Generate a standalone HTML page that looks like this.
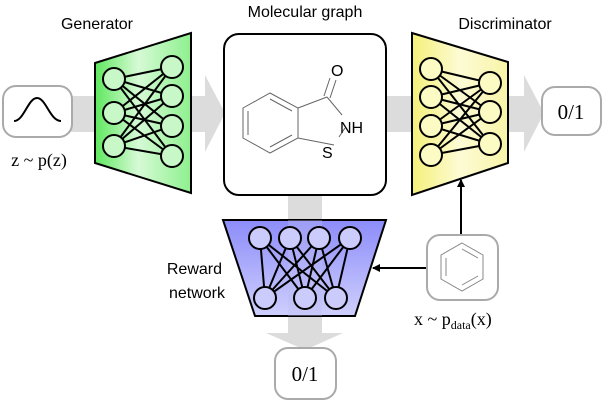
<!DOCTYPE html>
<html><head><style>body{margin:0;background:#fff}svg{display:block}</style></head><body>
<svg width="604" height="402" viewBox="0 0 604 402" xmlns="http://www.w3.org/2000/svg">
<defs>
<linearGradient id="g" x1="0" x2="1" y1="0" y2="0"><stop offset="0" stop-color="#5ee85e"/><stop offset="0.45" stop-color="#d6fad6"/><stop offset="1" stop-color="#8ef08e"/></linearGradient>
<linearGradient id="y" x1="0" x2="1" y1="0" y2="0"><stop offset="0" stop-color="#f4f07a"/><stop offset="0.5" stop-color="#fdfbd4"/><stop offset="1" stop-color="#f8f4a8"/></linearGradient>
<linearGradient id="b" x1="0" x2="0" y1="0" y2="1"><stop offset="0" stop-color="#8c8cfa"/><stop offset="1" stop-color="#cfcffd"/></linearGradient>
<marker id="ar" markerWidth="8" markerHeight="8" refX="7" refY="4" orient="auto" markerUnits="userSpaceOnUse"><path d="M0,0 L8,4 L0,8 Z" fill="#000"/></marker>
</defs>
<g fill="#dcdcdc">
<rect x="60" y="96" width="150" height="36"/>
<polygon points="205,75 225,113 205,152"/>
<rect x="380" y="96" width="148" height="36"/>
<polygon points="524,75 544,113 524,152"/>
<rect x="288" y="190" width="34" height="145"/>
<polygon points="266,333 343,333 305,350"/>
</g>
<rect x="3" y="86" width="69" height="51" rx="13" fill="#fff" stroke="#aaa" stroke-width="2"/>
<path d="M14,121 C24,121 28,98 37,98 C46,98 50,121 61,121" fill="none" stroke="#000" stroke-width="2"/>
<text x="39" y="166" font-family="Liberation Serif,serif" font-size="18" text-anchor="middle">z ~ p(z)</text>
<polygon points="95,63 191,33 191,193 95,163" fill="url(#g)" stroke="#000" stroke-width="2"/>
<g stroke="#000" stroke-width="2">
<path d="M114,79L172,67M114,79L172,96M114,79L172,126M114,79L172,156M114,113L172,67M114,113L172,96M114,113L172,126M114,113L172,156M114,146L172,67M114,146L172,96M114,146L172,126M114,146L172,156"/>
</g>
<g fill="#c8f8c8" stroke="#000" stroke-width="2">
<circle cx="114" cy="79" r="11"/><circle cx="114" cy="113" r="11"/><circle cx="114" cy="146" r="11"/>
<circle cx="172" cy="67" r="11"/><circle cx="172" cy="96" r="11"/><circle cx="172" cy="126" r="11"/><circle cx="172" cy="156" r="11"/>
</g>
<text x="97" y="29" font-family="Liberation Sans,sans-serif" font-size="16" text-anchor="middle">Generator</text>
<rect x="224" y="34" width="162" height="161" rx="15" fill="#fff" stroke="#000" stroke-width="2"/>
<text x="305" y="17" font-family="Liberation Sans,sans-serif" font-size="16" text-anchor="middle">Molecular graph</text>
<g stroke="#666" stroke-width="1" fill="none">
<polygon points="243,108 270,93 298,108 298,138 270,153 243,138"/>
<path d="M248,111 L248,135 M270,99 L292,111 M270,147 L292,135"/>
<path d="M298,108 L327,97 M327,97 L342,115 M334,145 L298,138 M324,96 L330,78 M330,98 L336,80"/>
<path d="M339,137 L345,128"/>
</g>
<g font-family="Liberation Sans,sans-serif" font-size="16" fill="#000">
<text x="331" y="76">O</text><text x="340" y="133">NH</text><text x="322" y="158">S</text>
</g>
<polygon points="412,33 508,62 508,163 412,195" fill="url(#y)" stroke="#000" stroke-width="2"/>
<g stroke="#000" stroke-width="2">
<path d="M431,69L490,83M431,69L490,112M431,69L490,144M431,97L490,83M431,97L490,112M431,97L490,144M431,126L490,83M431,126L490,112M431,126L490,144M431,155L490,83M431,155L490,112M431,155L490,144"/>
</g>
<g fill="#fdfbc4" stroke="#000" stroke-width="2">
<circle cx="431" cy="69" r="11"/><circle cx="431" cy="97" r="11"/><circle cx="431" cy="126" r="11"/><circle cx="431" cy="155" r="11"/>
<circle cx="490" cy="83" r="11"/><circle cx="490" cy="112" r="11"/><circle cx="490" cy="144" r="11"/>
</g>
<text x="505" y="29" font-family="Liberation Sans,sans-serif" font-size="16" text-anchor="middle">Discriminator</text>
<rect x="542" y="87" width="59" height="48" rx="13" fill="#fff" stroke="#aaa" stroke-width="2"/>
<text x="571" y="119" font-family="Liberation Serif,serif" font-size="21" text-anchor="middle">0/1</text>
<polygon points="223,220 386,220 355,316 255,316" fill="url(#b)" stroke="#000" stroke-width="2"/>
<rect x="288" y="220" width="34" height="96" fill="#bcbcf0" opacity="0.35"/>
<g stroke="#000" stroke-width="2">
<path d="M260,238L265,298M260,238L305,298M260,238L336,298M290,238L265,298M290,238L305,298M290,238L336,298M319,238L265,298M319,238L305,298M319,238L336,298M350,238L265,298M350,238L305,298M350,238L336,298"/>
</g>
<g fill="#ccccfc" stroke="#000" stroke-width="2">
<circle cx="260" cy="238" r="11"/><circle cx="290" cy="238" r="11"/><circle cx="319" cy="238" r="11"/><circle cx="350" cy="238" r="11"/>
<circle cx="265" cy="298" r="11"/><circle cx="305" cy="298" r="11"/><circle cx="336" cy="298" r="11"/>
</g>
<g font-family="Liberation Sans,sans-serif" font-size="16" text-anchor="end"><text x="222" y="274">Reward</text><text x="225" y="298">network</text></g>
<rect x="275" y="348" width="61" height="51" rx="13" fill="#fff" stroke="#aaa" stroke-width="2"/>
<text x="305" y="381" font-family="Liberation Serif,serif" font-size="21" text-anchor="middle">0/1</text>
<line x1="427" y1="268" x2="373" y2="268" stroke="#000" stroke-width="2" marker-end="url(#ar)"/>
<line x1="461" y1="235" x2="461" y2="180" stroke="#000" stroke-width="2" marker-end="url(#ar)"/>
<rect x="427" y="235" width="71" height="65" rx="13" fill="#fff" stroke="#aaa" stroke-width="2"/>
<g stroke="#888" stroke-width="1" fill="none">
<polygon points="462,243 483,255 483,279 462,291 441,279 441,255"/>
<path d="M446,258 L446,276 M462,249 L478,258 M462,285 L478,276"/>
</g>
<text x="414" y="325" font-family="Liberation Serif,serif" font-size="18">x ~ p<tspan font-size="12" dy="4">data</tspan><tspan dy="-4">(x)</tspan></text>
</svg>
</body></html>
